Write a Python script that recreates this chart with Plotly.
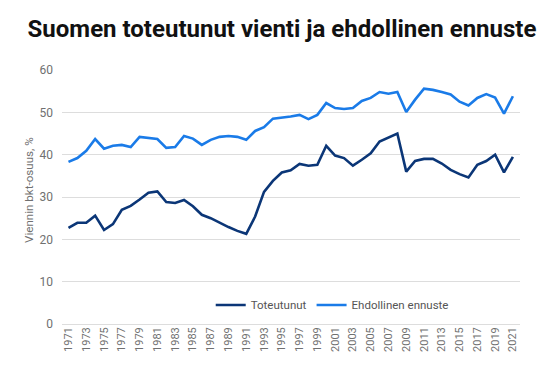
import plotly.graph_objects as go

years = list(range(1971, 2022))
toteutunut = [22.7, 23.9, 23.9, 25.6, 22.2, 23.6, 27.0, 27.9, 29.4, 31.0,
              31.3, 28.8, 28.6, 29.3, 27.8, 25.8, 25.0, 23.9, 22.9, 22.0,
              21.3, 25.4, 31.2, 33.8, 35.8, 36.3, 37.8, 37.4, 37.6, 42.1,
              39.8, 39.2, 37.4, 38.8, 40.3, 43.1, 44.1, 45.0, 36.0, 38.5,
              39.0, 39.0, 37.9, 36.4, 35.4, 34.6, 37.6, 38.5, 40.0, 35.8, 39.5]
ennuste = [38.3, 39.2, 40.9, 43.7, 41.4, 42.1, 42.3, 41.8, 44.2, 44.0,
           43.7, 41.6, 41.8, 44.4, 43.8, 42.3, 43.5, 44.2, 44.4, 44.2,
           43.5, 45.6, 46.5, 48.5, 48.7, 49.0, 49.4, 48.4, 49.4, 52.2,
           51.0, 50.8, 51.0, 52.7, 53.4, 54.8, 54.4, 54.8, 50.1, 53.0,
           55.6, 55.3, 54.8, 54.2, 52.5, 51.6, 53.4, 54.3, 53.5, 49.7, 53.8]
tick_years = list(range(1971, 2022, 2))

fig = go.Figure()
fig.add_trace(go.Scatter(x=years, y=toteutunut, mode="lines", name="Toteutunut",
                         line=dict(color="#0b3677", width=2.6)))
fig.add_trace(go.Scatter(x=years, y=ennuste, mode="lines", name="Ehdollinen ennuste",
                         line=dict(color="#1a7be8", width=2.6)))

fig.add_annotation(text="Viennin bkt-osuus, %", textangle=-90,
                   xref="paper", yref="paper", x=-0.072, y=0.528,
                   xanchor="center", yanchor="middle", showarrow=False,
                   font=dict(family="Roboto", size=11.6, color="#707070"))

fig.update_layout(
    width=548, height=360,
    margin=dict(l=54, r=36, t=62, b=44),
    paper_bgcolor="white", plot_bgcolor="white",
    font=dict(family="Roboto", color="#666666", size=11),
    title=dict(text="<b>Suomen toteutunut vienti ja ehdollinen ennuste</b>",
               x=0.5, xanchor="center", y=0.944, yanchor="middle",
               font=dict(family="Roboto", size=24, color="#111111")),
    showlegend=True,
    legend=dict(orientation="h", x=0.59, xanchor="center", y=0.075, yanchor="middle",
                bgcolor="rgba(0,0,0,0)", font=dict(size=11.5, color="#555555"),
                itemwidth=30),
    xaxis=dict(range=[1970.27, 2021.8], tickmode="array", tickvals=tick_years,
               ticktext=[str(y) for y in tick_years], tickangle=-90,
               showgrid=False, zeroline=False, showline=False, ticks="",
               tickfont=dict(size=11, color="#707070")),
    yaxis=dict(range=[0, 60], tickvals=[0, 10, 20, 30, 40, 50, 60],
               showgrid=True, gridcolor="#dddddd", gridwidth=1,
               zeroline=True, zerolinecolor="#dddddd", zerolinewidth=1,
               ticks="", ticklabelstandoff=8,
               tickfont=dict(size=12, color="#707070")),
)

fig.write_html("out.html")
